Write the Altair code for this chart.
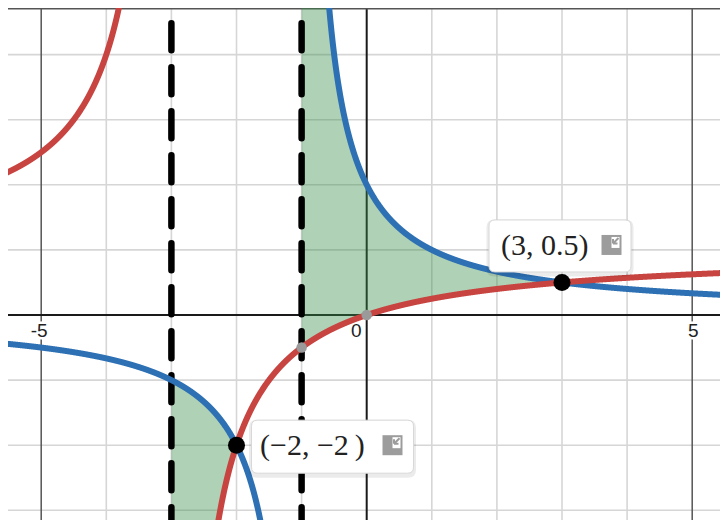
import altair as alt
import numpy as np
import pandas as pd

# ---------------- values ----------------
X_DOMAIN = [-5.51, 5.427]          # visible x window
Y_DOMAIN = [-3.149, 4.716]         # visible y window

MINOR_GRID_X = [-4, -3, -2, -1, 1, 2, 3, 4]
MAJOR_GRID_X = [-5, 5]
MINOR_GRID_Y = [-3, -2, -1, 1, 2, 3, 4]
AXIS_TICKS = [-5, 5]
AXIS_TICK_TEXT = ["-5", "5"]
ORIGIN_TEXT = ["0"]

ASYMPTOTES_X = [-3, -1]            # dashed vertical lines

# red curve y = x/(x+3), blue curve y = 2/(x+1)
RED_POLE = -3
BLUE_POLE = -1
SAMPLE_X = np.linspace(-5.6, 5.6, 4401) + 0.00013

SHADE_RANGES = [(-3, -2), (-1, 3)]  # green region between the curves

INTERSECT_X = [3, -2]
INTERSECT_Y = [0.5, -2]
INTERSECT_TEXT = ["(3, 0.5)", "(\u22122, \u22122\u2009)"]

GREY_X = [0, -1]
GREY_Y = [0, -0.5]

RED = "#c74440"
BLUE = "#2d70b3"
GREEN = "#388c46"


def red_fn(x):
    return x / (x + 3)


def blue_fn(x):
    return 2 / (x + 1)


def curve_frame(fn, pole, name):
    xx = SAMPLE_X
    yy = fn(xx)
    keep = np.abs(yy) < 30
    return pd.DataFrame({
        "x": xx[keep],
        "y": yy[keep],
        "branch": np.where(xx[keep] > pole, name + "R", name + "L"),
    })


red_df = curve_frame(red_fn, RED_POLE, "red")
blue_df = curve_frame(blue_fn, BLUE_POLE, "blue")

shade_parts = []
for i, (a, b) in enumerate(SHADE_RANGES):
    xx = np.linspace(a + 1e-4, b, 800)
    shade_parts.append(pd.DataFrame({
        "x": xx,
        "lo": np.clip(red_fn(xx), -30, 30),
        "hi": np.clip(blue_fn(xx), -30, 30),
        "seg": i,
    }))
shade_df = pd.concat(shade_parts, ignore_index=True)

xsc = alt.Scale(domain=X_DOMAIN, nice=False, zero=False)
ysc = alt.Scale(domain=Y_DOMAIN, nice=False, zero=False)
X = alt.X("x:Q", scale=xsc, axis=None)
Y = alt.Y("y:Q", scale=ysc, axis=None)

# ---------------- grid & axes ----------------
grid_minor_v = alt.Chart(pd.DataFrame({"x": MINOR_GRID_X})).mark_rule(
    color="#d6d6d6", strokeWidth=1.6).encode(x=X)
grid_minor_h = alt.Chart(pd.DataFrame({"y": MINOR_GRID_Y})).mark_rule(
    color="#d6d6d6", strokeWidth=1.6).encode(y=Y)
grid_major_v = alt.Chart(pd.DataFrame({"x": MAJOR_GRID_X})).mark_rule(
    color="#555555", strokeWidth=1.5).encode(x=X)
axis_v = alt.Chart(pd.DataFrame({"x": [0]})).mark_rule(
    color="#1a1a1a", strokeWidth=2).encode(x=X)
axis_h = alt.Chart(pd.DataFrame({"y": [0]})).mark_rule(
    color="#1a1a1a", strokeWidth=2).encode(y=Y)
top_line = alt.Chart(pd.DataFrame({"y": [Y_DOMAIN[1]]})).mark_rule(
    color="#555555", strokeWidth=3).encode(y=Y)

tick_df = pd.DataFrame({"x": AXIS_TICKS, "y": [0] * len(AXIS_TICKS), "t": AXIS_TICK_TEXT})
zero_df = pd.DataFrame({"x": [0], "y": [0], "t": ORIGIN_TEXT})
lab_style = dict(align="right", baseline="alphabetic", font="Liberation Sans", fontSize=19, dy=22)
tick_halo = alt.Chart(tick_df).mark_text(dx=6.5, stroke="white", strokeWidth=5, fill="white", **lab_style).encode(x=X, y=Y, text="t:N")
tick_text = alt.Chart(tick_df).mark_text(dx=6.5, color="#222222", **lab_style).encode(x=X, y=Y, text="t:N")
zero_halo = alt.Chart(zero_df).mark_text(dx=-5, stroke="white", strokeWidth=5, fill="white", **lab_style).encode(x=X, y=Y, text="t:N")
zero_text = alt.Chart(zero_df).mark_text(dx=-5, color="#222222", **lab_style).encode(x=X, y=Y, text="t:N")

# ---------------- shading, asymptotes, curves ----------------
shade = alt.Chart(shade_df).mark_area(color=GREEN, opacity=0.4, clip=True).encode(
    x=X, y=alt.Y("lo:Q", scale=ysc, axis=None), y2="hi:Q", detail="seg:N")

dash_df = pd.DataFrame({"x": ASYMPTOTES_X,
                        "ytop": [Y_DOMAIN[1]] * len(ASYMPTOTES_X),
                        "ybot": [Y_DOMAIN[0]] * len(ASYMPTOTES_X)})
dashed = alt.Chart(dash_df).mark_rule(
    color="black", strokeWidth=6.5, strokeDash=[27, 17], strokeDashOffset=28.75,
    strokeCap="round").encode(x=X, y=alt.Y("ytop:Q", scale=ysc, axis=None), y2="ybot:Q")

blue_line = alt.Chart(blue_df).mark_line(color=BLUE, strokeWidth=6, clip=True).encode(
    x=X, y=Y, detail="branch:N", order="x:Q")
red_line = alt.Chart(red_df).mark_line(color=RED, strokeWidth=6, clip=True).encode(
    x=X, y=Y, detail="branch:N", order="x:Q")

grey_pts = alt.Chart(pd.DataFrame({"x": GREY_X, "y": GREY_Y})).mark_circle(
    color="#9a9a9a", size=110, opacity=1).encode(x=X, y=Y)
black_pts = alt.Chart(pd.DataFrame({"x": INTERSECT_X, "y": INTERSECT_Y})).mark_circle(
    color="black", size=290, opacity=1).encode(x=X, y=Y)


# ---------------- point labels ----------------
def rounded_rect(w, h, r):
    hw, hh = w / 2, h / 2
    return (f"M{-hw + r},{-hh}L{hw - r},{-hh}Q{hw},{-hh} {hw},{-hh + r}L{hw},{hh - r}"
            f"Q{hw},{hh} {hw - r},{hh}L{-hw + r},{hh}Q{-hw},{hh} {-hw},{hh - r}"
            f"L{-hw},{-hh + r}Q{-hw},{-hh} {-hw + r},{-hh}Z")


ICON_BODY = "M-10,-10L10,-10L10,10L-10,10Z"
ICON_HOLE = "M0,-8L8,-8L8,3L0,3Z"
ICON_ARROW = "M7,-7L1.5,-1.5M1.5,-1.5L1.5,-6M1.5,-1.5L6,-1.5"


def point_label(i, text_dx, text_dy, box_w, box_h, box_dx, box_dy, icon_dx, icon_dy):
    df = pd.DataFrame({"x": [INTERSECT_X[i]], "y": [INTERSECT_Y[i]], "t": [INTERSECT_TEXT[i]]})
    base = alt.Chart(df)
    shadow = base.mark_point(shape=rounded_rect(box_w + 5, box_h + 5, 8), size=4, filled=True,
                             fill="black", opacity=0.08, strokeWidth=0,
                             xOffset=box_dx, yOffset=box_dy + 2).encode(x=X, y=Y)
    box = base.mark_point(shape=rounded_rect(box_w, box_h, 6), size=4, filled=True,
                          fill="white", stroke="#d8d8d8", strokeWidth=1, opacity=1,
                          xOffset=box_dx, yOffset=box_dy).encode(x=X, y=Y)
    txt = base.mark_text(align="left", baseline="alphabetic", font="Liberation Serif",
                         fontSize=30, color="#222222", dx=text_dx, dy=text_dy).encode(x=X, y=Y, text="t:N")
    icon_a = base.mark_point(shape=ICON_BODY, size=4, filled=True, fill="#9c9c9c", strokeWidth=0,
                             opacity=1, xOffset=icon_dx, yOffset=icon_dy).encode(x=X, y=Y)
    icon_b = base.mark_point(shape=ICON_HOLE, size=4, filled=True, fill="white", strokeWidth=0,
                             opacity=1, xOffset=icon_dx, yOffset=icon_dy).encode(x=X, y=Y)
    icon_c = base.mark_point(shape=ICON_ARROW, size=4, filled=False, stroke="#9c9c9c",
                             strokeWidth=2, opacity=1, xOffset=icon_dx, yOffset=icon_dy).encode(x=X, y=Y)
    return [shadow, box, txt, icon_a, icon_b, icon_c]


label1 = point_label(0, -61, -27.5, 142, 52, -2, -36.5, 49.5, -37.5)
label2 = point_label(1, 23.5, 10, 162, 53, 96, 1.5, 156, 0)

chart = alt.layer(
    grid_minor_v, grid_minor_h, grid_major_v, axis_v, axis_h, top_line,
    tick_halo, tick_text, zero_halo, zero_text,
    shade, dashed, blue_line, red_line, grey_pts, black_pts,
    *label1, *label2,
).properties(
    width=712, height=512, padding=0,
    autosize=alt.AutoSizeParams(type="none"),
    background="white",
).configure_view(stroke=None)

chart.save("out.html", embed_options={"renderer": "svg", "actions": False})
